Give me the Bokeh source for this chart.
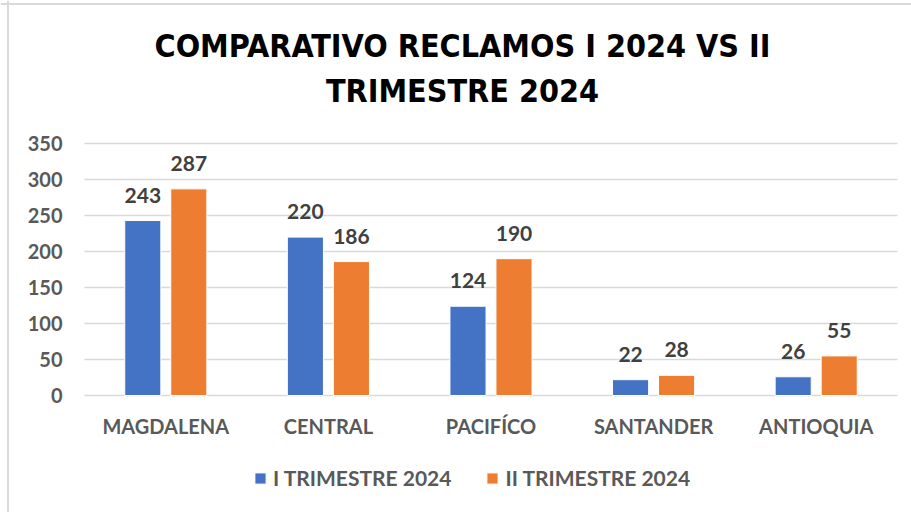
from bokeh.plotting import figure
from bokeh.models import Range1d, FixedTicker, Legend, LegendItem, ColumnDataSource, Label, Span
from bokeh.transform import dodge
from bokeh.embed import file_html
from bokeh.resources import INLINE

categories = ["MAGDALENA", "CENTRAL", "PACIFÍCO", "SANTANDER", "ANTIOQUIA"]
series_names = ["I TRIMESTRE 2024", "II TRIMESTRE 2024"]
q1_values = [243, 220, 124, 22, 26]
q2_values = [287, 186, 190, 28, 55]
y_ticks = [0, 50, 100, 150, 200, 250, 300, 350]
title_lines = ["COMPARATIVO RECLAMOS I 2024 VS II", "TRIMESTRE 2024"]

BLUE = "#4472C4"
ORANGE = "#ED7D31"
GRAY = "#595959"
BORDER = "#d9d9d9"
FONT = "Lato"
TITLE_FONT = "Liberation Sans Narrow, DejaVu Sans Condensed, Roboto Condensed, Roboto"

n = len(categories)
cat_pos = [i + 0.5 for i in range(n)]
src = ColumnDataSource(dict(x=cat_pos, q1=q1_values, q2=q2_values,
                            q1s=[str(v) for v in q1_values], q2s=[str(v) for v in q2_values]))

W, H = 911, 512
# plot-area layout in page pixels
PL, PR, PT, PB = 84, 897, 143, 395
cw = (PR - PL) / n                        # pixels per category
py = (PB - PT) / 350.0                    # pixels per unit
x_start, x_end = -PL / cw, (W - PL) / cw
y_max, y_min = 350 + PT / py, -(H - PB) / py

p = figure(width=W, height=H, x_range=Range1d(x_start, x_end), y_range=Range1d(y_min, y_max),
           output_backend="svg", toolbar_location=None,
           min_border_left=0, min_border_right=0, min_border_top=0, min_border_bottom=0)
p.outline_line_color = None
p.background_fill_color = "white"
p.border_fill_color = "white"
p.xgrid.grid_line_color = None
p.ygrid.grid_line_color = None

# chart-area border (left and top edges visible in the reference)
p.add_layout(Span(location=(7.5 - PL) / cw, dimension="height", line_color=BORDER, line_width=2))
p.add_layout(Span(location=(PB - 3.5) / py, dimension="width", line_color=BORDER, line_width=2))

# horizontal gridlines across the category span only
p.segment(x0=[0] * len(y_ticks), x1=[n] * len(y_ticks), y0=y_ticks, y1=y_ticks,
          line_color=BORDER, line_width=1.5)

r1 = p.vbar(x=dodge("x", -0.1415), top="q1", width=0.222, source=src,
            fill_color=BLUE, line_color="white", line_width=1)
r2 = p.vbar(x=dodge("x", 0.1415), top="q2", width=0.222, source=src,
            fill_color=ORANGE, line_color="white", line_width=1)

for col, off in (("q1", -0.1415), ("q2", 0.1415)):
    p.text(x=dodge("x", off), y=col, text=col + "s", source=src,
           text_align="center", text_baseline="bottom", y_offset=-18,
           text_font={"value": FONT}, text_font_style="bold", text_font_size="21px",
           text_color="#404040")

for ax in (p.xaxis, p.yaxis):
    ax.fixed_location = 0
    ax.axis_line_color = None
    ax.major_tick_line_color = None
    ax.minor_tick_line_color = None
    ax.major_tick_out = 0
    ax.major_tick_in = 0
    ax.minor_tick_out = 0
    ax.major_label_text_font = FONT
    ax.major_label_text_font_style = "bold"
    ax.major_label_text_font_size = "20px"
    ax.major_label_text_color = GRAY

p.yaxis.ticker = FixedTicker(ticks=y_ticks)
p.yaxis.major_label_standoff = 22
p.xaxis.ticker = FixedTicker(ticks=cat_pos)
p.xaxis.major_label_overrides = {pos: name for pos, name in zip(cat_pos, categories)}
p.xaxis.major_label_standoff = 18

for txt, yc in zip(title_lines, [45, 90]):
    p.add_layout(Label(x=462, y=H - yc, x_units="screen", y_units="screen",
                       text=txt, text_align="center", text_baseline="middle",
                       text_font=TITLE_FONT, text_font_style="bold",
                       text_font_size="32px", text_color="black"))

legend = Legend(items=[LegendItem(label=series_names[0], renderers=[r1]),
                       LegendItem(label=series_names[1], renderers=[r2])],
                orientation="horizontal", location=(253, 22),
                padding=0, margin=0, spacing=34, label_standoff=6,
                glyph_width=14, glyph_height=14,
                label_text_font=FONT, label_text_font_style="bold",
                label_text_font_size="21px", label_text_color=GRAY,
                border_line_color=None, background_fill_alpha=0)
p.add_layout(legend, "center")

open("out.html", "w").write(file_html(p, INLINE))
